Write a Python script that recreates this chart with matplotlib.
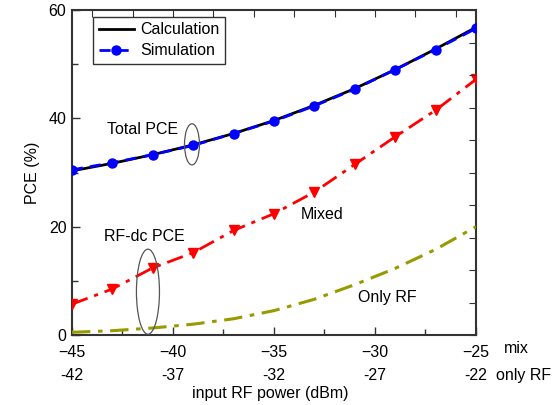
import matplotlib
matplotlib.use('Agg')
import matplotlib.pyplot as plt
from matplotlib.patches import Ellipse
from matplotlib.ticker import MultipleLocator
import matplotlib.transforms as mtransforms

plt.rcParams['font.family'] = ['Liberation Sans', 'DejaVu Sans']
plt.rcParams['font.size'] = 11.5

# input RF power (dBm), "mix" scale
power_mix = [-45, -43, -41, -39, -37, -35, -33, -31, -29, -27, -25]
calculation = [30.3, 31.7, 33.3, 35.1, 37.2, 39.6, 42.4, 45.5, 49.0, 52.8, 56.8]
simulation = [30.5, 31.8, 33.3, 35.0, 37.2, 39.5, 42.3, 45.4, 49.0, 52.7, 56.6]
mixed = [5.7, 8.5, 12.4, 15.2, 19.3, 22.4, 26.4, 31.5, 36.6, 41.5, 47.2]
only_rf = [0.5, 0.8, 1.3, 2.0, 3.0, 4.5, 6.6, 9.3, 12.3, 15.8, 20.0]

mix_ticks = [-45, -40, -35, -30, -25]
only_rf_ticks = ['-42', '-37', '-32', '-27', '-22']

fig = plt.figure(figsize=(5.59, 4.05), dpi=100)
ax = fig.add_axes([0.1288, 0.1728, 0.7227, 0.8025])

ax.plot(power_mix, calculation, color='black', lw=2.0, label='Calculation', zorder=3)
ax.plot(power_mix, simulation, color='blue', lw=2.0, ls=(0, (4, 2.5)), marker='o',
        markersize=6.5, label='Simulation', zorder=4)
ax.plot(power_mix, mixed, color='red', lw=2.0, ls=(0, (6, 2.5, 1.5, 2.5)), marker='v',
        markersize=6.5, zorder=3)
ax.plot(power_mix, only_rf, color='#999900', lw=2.2, ls=(0, (6, 2.5, 1.5, 2.5)), zorder=3)

ax.set_xlim(-45, -25)
ax.set_ylim(0, 60)
ax.set_xticks(mix_ticks)
ax.xaxis.set_minor_locator(MultipleLocator(2.5))
ax.set_yticks([0, 20, 40, 60])
ax.yaxis.set_minor_locator(MultipleLocator(10))
ax.tick_params(which='both', direction='in', width=1.0, color='#333333')
ax.tick_params(axis='x', pad=7)
ax.tick_params(axis='y', pad=4)
ax.tick_params(which='major', length=6)
ax.tick_params(which='minor', length=4)
for sp in ax.spines.values():
    sp.set_linewidth(1.5)
    sp.set_color('#333333')

# top / right ticks
axt = ax.twiny()
axt.set_xlim(ax.get_xlim())
axt.xaxis.set_major_locator(MultipleLocator(2))
axt.tick_params(direction='in', length=5, color='#333333', labeltop=False)
axr = ax.twinx()
axr.set_ylim(ax.get_ylim())
axr.yaxis.set_major_locator(MultipleLocator(6))
axr.tick_params(direction='in', length=5, color='#333333', labelright=False)
for a in (axt, axr):
    for sp in a.spines.values():
        sp.set_visible(False)

ax.set_ylabel('PCE (%)', labelpad=6)

trans = mtransforms.blended_transform_factory(ax.transData, ax.transAxes)
for x, lab in zip(mix_ticks, only_rf_ticks):
    ax.text(x, -0.125, lab, transform=trans, ha='center', va='center')
ax.text(1.07, -0.04, 'mix', transform=ax.transAxes, ha='left', va='center')
ax.text(1.05, -0.125, 'only RF', transform=ax.transAxes, ha='left', va='center')
ax.text(0.49, -0.18, 'input RF power (dBm)', transform=ax.transAxes, ha='center', va='center')

ax.text(-41.5, 38.0, 'Total PCE', ha='center', va='center')
ax.text(-41.4, 18.2, 'RF-dc PCE', ha='center', va='center')
ax.text(-32.6, 22.2, 'Mixed', ha='center', va='center')
ax.text(-29.4, 7.0, 'Only RF', ha='center', va='center')

ax.add_patch(Ellipse((-39.06, 35.2), 0.74, 7.6, fill=False, ec='#555555', lw=0.9, zorder=5))
ax.add_patch(Ellipse((-41.24, 8.0), 1.14, 15.7, fill=False, ec='#555555', lw=0.9, zorder=5))

leg = ax.legend(loc='upper left', bbox_to_anchor=(0.052, 0.98), frameon=True, fancybox=False,
                handlelength=2.2, handletextpad=0.4, borderpad=0.35, labelspacing=0.4,
                borderaxespad=0)
leg.get_frame().set_edgecolor('black')
leg.get_frame().set_linewidth(1.0)

fig.savefig('out.png', dpi=100)
